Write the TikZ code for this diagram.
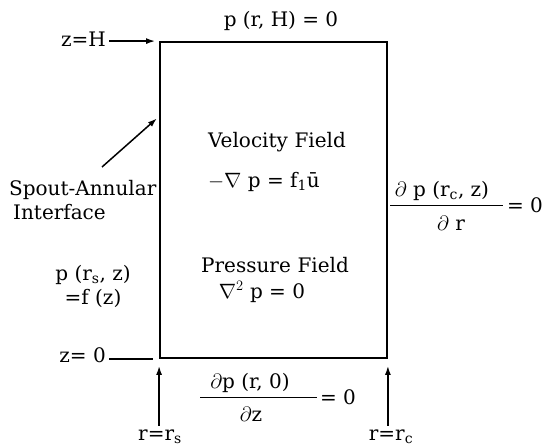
\documentclass[tikz,border=0pt]{standalone}
\usepackage{fontspec}
\setmainfont{DejaVu Serif}
\usetikzlibrary{arrows.meta,calc}
\begin{document}
\begin{tikzpicture}[x=1pt,y=-1pt,
  lbl/.style={font=\fontsize{20}{24}\selectfont, inner sep=0pt},
  arr/.style={line width=1.5pt,-{Latex[length=9pt,width=6pt]}},
  plain/.style={line width=1.5pt},
  bar/.style={line width=0.8pt}]
\useasboundingbox (0,0) rectangle (547,446);
% domain
\node[draw, line width=1.8pt, minimum width=227pt, minimum height=316pt, inner sep=0pt] (box) at (273.5,200) {};
% top
\node[lbl] (pH) at (281,21) {p (r, H) = 0};
\node[lbl, anchor=base east] (zH) at (106,47) {z=H};
\draw[arr, shorten <=3pt, shorten >=4pt] (zH.east |- box.north) -- (box.north west);
% left
\coordinate (sptail) at (102,167);
\draw[arr, shorten >=3pt] (sptail) -- ($(box.north west)!0.237!(box.south west)$);
\node[lbl, align=left, anchor=north west] (sp) at (9,180) {Spout-Annular\\\hspace*{4pt}Interface};
\node[lbl, align=center] (psz) at (93,286) {p (r\textsubscript{s}, z)\\=f (z)};
\node[lbl, anchor=base east] (z0) at (106,363) {z= 0};
\draw[plain, shorten <=3pt, shorten >=6pt] (z0.east |- box.south) -- (box.south west);
% bottom
\node[lbl, anchor=south] (rs) at (160,444) {r=r\textsubscript{s}};
\node[lbl, anchor=south] (rc) at (391,444) {r=r\textsubscript{c}};
\draw[arr] ([yshift=4pt]rs.north -| box.south west) -- ([yshift=-7pt]box.south west);
\draw[arr] ([yshift=4pt]rc.north -| box.south east) -- ([yshift=-7pt]box.south east);
% inside
\node[lbl] (vf) at (277,142) {Velocity\,\,Field};
\node[lbl] (ve) at (264,182) {$-\nabla$ p = f\textsubscript{1}\={u}};
\node[lbl] (pf) at (275,265) {Pressure\,\,Field};
\node[lbl] (pe) at (262,292) {$\nabla^{2}$ p = 0};
% bottom BC
\node[lbl] (bn) at (250,383) {$\partial$p (r, 0)};
\draw[bar] (200,397) -- (317,397);
\node[lbl] (bd) at (251,414) {$\partial$z};
\node[lbl] (be) at (338,397) {= 0};
% right BC
\node[lbl] (rn) at (442,191) {$\partial$ p (r\textsubscript{c}, z)};
\draw[bar] (390,205) -- (503,205);
\node[lbl] (rd) at (451,223) {$\partial$ r};
\node[lbl] (re) at (525,205) {= 0};
\end{tikzpicture}
\end{document}
